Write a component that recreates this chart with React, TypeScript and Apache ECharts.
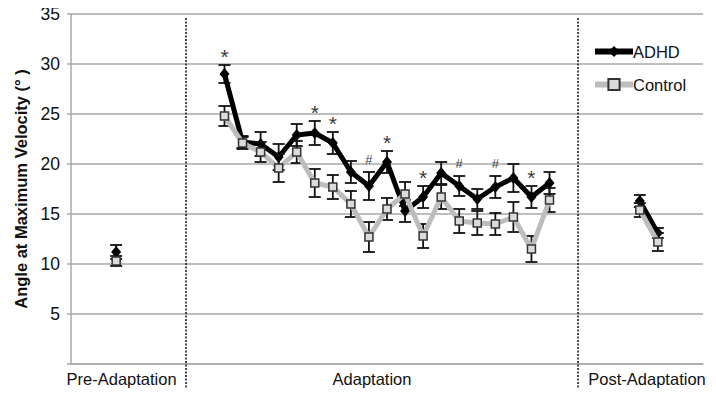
import React, { useEffect, useRef } from "react";
import * as echarts from "echarts";

// Section labels along the x axis and the dotted dividers between sections
const sectionNames = ["Pre-Adaptation", "Adaptation", "Post-Adaptation"];
const sectionCenters = [2.8, 16.67, 31.9];
const sectionDividers = [6.37, 28.08];

// Trial slot positions on the x axis
const preSlots = [2.5];
const adaptSlots = [8.5, 9.5, 10.5, 11.5, 12.5, 13.5, 14.5, 15.5, 16.5, 17.5, 18.5, 19.5, 20.5, 21.5, 22.5, 23.5, 24.5, 25.5, 26.5];
const postSlots = [31.5, 32.5];

// ADHD means and standard errors
const preADHD = [11.2];
const preADHDErr = [0.7];
const adaptADHD = [29.0, 22.2, 22.0, 20.7, 22.9, 23.1, 22.1, 19.2, 17.8, 20.2, 15.3, 16.7, 19.1, 17.8, 16.5, 17.7, 18.6, 16.7, 18.1];
const adaptADHDErr = [0.9, 0.6, 1.2, 1.3, 1.1, 1.2, 1.1, 1.1, 1.4, 1.1, 1.1, 1.1, 1.1, 1.0, 1.0, 1.1, 1.4, 1.1, 1.1];
const postADHD = [16.3, 13.1];
const postADHDErr = [0.6, 0.5];

// Control means and standard errors
const preControl = [10.3];
const preControlErr = [0.5];
const adaptControl = [24.8, 22.1, 21.2, 19.6, 21.2, 18.1, 17.7, 16.0, 12.7, 15.5, 17.0, 12.8, 16.7, 14.3, 14.1, 14.0, 14.7, 11.5, 16.4];
const adaptControlErr = [1.0, 0.6, 1.0, 1.4, 1.1, 1.4, 1.2, 1.3, 1.5, 1.1, 1.2, 1.2, 1.2, 1.2, 1.2, 1.1, 1.5, 1.3, 1.2];
const postControl = [15.4, 12.2];
const postControlErr = [0.7, 0.9];

// Significance marks (adaptation trial index, 0-based)
const sigIndex = [0, 5, 6, 8, 9, 11, 13, 15, 17];
const sigMark = ["*", "*", "*", "#", "*", "*", "#", "#", "*"];

const yTicks = [0, 5, 10, 15, 20, 25, 30, 35];

const FONT = "Liberation Sans, Arial, sans-serif";
const GRID_COLOR = "#a8a8a8";
const TEXT_COLOR = "#111111";

function pairs(xs: number[], ys: number[]) {
  return xs.map((x, i) => [x, ys[i]]);
}

function lineSeries(name: string, xs: number[], ys: number[], kind: "adhd" | "control") {
  const isA = kind === "adhd";
  return {
    type: "line",
    name,
    data: pairs(xs, ys),
    symbol: isA ? "diamond" : "rect",
    symbolSize: isA ? [10, 12] : 8,
    showSymbol: true,
    lineStyle: { color: isA ? "#000000" : "#bdbdbd", width: 5 },
    itemStyle: isA
      ? { color: "#000000", borderColor: "#000000", borderWidth: 0 }
      : { color: "#dcdcdc", borderColor: "#333333", borderWidth: 1.5 },
    z: isA ? 3 : 5,
    silent: true,
  };
}

function errSeries(name: string, xs: number[], ys: number[], es: number[], z: number) {
  return {
    type: "custom",
    name: name + " err",
    data: xs.map((x, i) => [x, ys[i], es[i]]),
    encode: { x: 0, y: 1 },
    z,
    silent: true,
    renderItem: (params: any, api: any) => {
      const x = api.value(0);
      const y = api.value(1);
      const e = api.value(2);
      const top = api.coord([x, y + e]);
      const bot = api.coord([x, y - e]);
      const w = 6;
      const style = { stroke: "#111111", lineWidth: 1.8 };
      return {
        type: "group",
        children: [
          { type: "line", shape: { x1: top[0], y1: top[1], x2: bot[0], y2: bot[1] }, style },
          { type: "line", shape: { x1: top[0] - w, y1: top[1], x2: top[0] + w, y2: top[1] }, style },
          { type: "line", shape: { x1: bot[0] - w, y1: bot[1], x2: bot[0] + w, y2: bot[1] }, style },
        ],
      };
    },
  };
}

export default function App() {
  const ref = useRef<HTMLDivElement>(null);

  useEffect(() => {
    if (!ref.current) return;
    const chart = echarts.init(ref.current, undefined, { renderer: "svg" });

    const sigData = sigIndex.map((idx, k) => ({
      value: [adaptSlots[idx], adaptADHD[idx] + adaptADHDErr[idx]],
      label: {
        formatter: sigMark[k],
        fontSize: sigMark[k] === "*" ? 21 : 13,
        distance: sigMark[k] === "*" ? -2 : 6,
      },
    }));

    const option: any = {
      animation: false,
      backgroundColor: "#ffffff",
      textStyle: { fontFamily: FONT },
      grid: { left: 71, right: 13, top: 14, bottom: 32, containLabel: false },
      legend: {
        data: [
          { name: "ADHD", lineStyle: { width: 6 } },
          { name: "Control", lineStyle: { width: 6 } },
        ],
        orient: "vertical",
        left: 587,
        top: 38,
        itemWidth: 38,
        itemHeight: 14,
        itemGap: 16,
        selectedMode: false,
        textStyle: { fontSize: 16.5, color: TEXT_COLOR, fontFamily: FONT, padding: [0, 0, 0, -5] },
      },
      xAxis: {
        type: "value",
        min: 0,
        max: 35,
        axisLine: { show: true, lineStyle: { color: GRID_COLOR, width: 1.5 } },
        axisTick: { show: false },
        splitLine: { show: false },
        axisLabel: {
          customValues: sectionCenters,
          formatter: (v: number) => {
            let best = 0;
            sectionCenters.forEach((c, i) => {
              if (Math.abs(c - v) < Math.abs(sectionCenters[best] - v)) best = i;
            });
            return sectionNames[best];
          },
          fontSize: 16.5,
          color: TEXT_COLOR,
          margin: 6,
          fontFamily: FONT,
          overflow: "none",
          hideOverlap: false,
          showMinLabel: true,
          showMaxLabel: true,
        },
      },
      yAxis: {
        type: "value",
        min: 0,
        max: 35,
        interval: 5,
        name: "Angle at Maximum Velocity (° )",
        nameLocation: "middle",
        nameGap: 40,
        nameTextStyle: { fontSize: 16.5, fontWeight: "bold", color: TEXT_COLOR, fontFamily: FONT },
        axisLine: { show: true, lineStyle: { color: GRID_COLOR, width: 1.5 } },
        axisTick: { show: true, length: 4, lineStyle: { color: GRID_COLOR, width: 1.5 } },
        splitLine: { show: true, lineStyle: { color: GRID_COLOR, width: 1.5 } },
        axisLabel: {
          formatter: (v: number) => (v === yTicks[0] ? "" : String(v)),
          fontSize: 17.5,
          color: TEXT_COLOR,
          margin: 11,
          fontFamily: FONT,
        },
      },
      series: [
        {
          type: "custom",
          name: "dividers",
          data: sectionDividers.map((d) => [d, 35]),
          encode: { x: 0, y: 1 },
          clip: false,
          silent: true,
          z: 1,
          renderItem: (params: any, api: any) => {
            const x = api.value(0);
            const top = api.coord([x, api.value(1)]);
            const bot = api.coord([x, 0]);
            return {
              type: "line",
              shape: { x1: top[0], y1: top[1] + 4, x2: bot[0], y2: bot[1] + 28 },
              style: { stroke: "#111111", lineWidth: 1.5, lineDash: [2, 1.5] },
            };
          },
        },
        lineSeries("ADHD", preSlots, preADHD, "adhd"),
        lineSeries("ADHD", adaptSlots, adaptADHD, "adhd"),
        lineSeries("ADHD", postSlots, postADHD, "adhd"),
        errSeries("ADHD", preSlots, preADHD, preADHDErr, 2),
        errSeries("ADHD", adaptSlots, adaptADHD, adaptADHDErr, 2),
        errSeries("ADHD", postSlots, postADHD, postADHDErr, 2),
        lineSeries("Control", preSlots, preControl, "control"),
        lineSeries("Control", adaptSlots, adaptControl, "control"),
        lineSeries("Control", postSlots, postControl, "control"),
        errSeries("Control", preSlots, preControl, preControlErr, 4),
        errSeries("Control", adaptSlots, adaptControl, adaptControlErr, 4),
        errSeries("Control", postSlots, postControl, postControlErr, 4),
        {
          type: "scatter",
          name: "significance",
          data: sigData,
          symbolSize: 1,
          itemStyle: { color: "rgba(0,0,0,0)" },
          silent: true,
          z: 6,
          label: {
            show: true,
            position: "top",
            color: "#000000",
            fontFamily: FONT,
          },
        },
      ],
    };

    chart.setOption(option);
    return () => chart.dispose();
  }, []);

  return <div ref={ref} style={{ width: 716, height: 396, margin: -8 }} />;
}
